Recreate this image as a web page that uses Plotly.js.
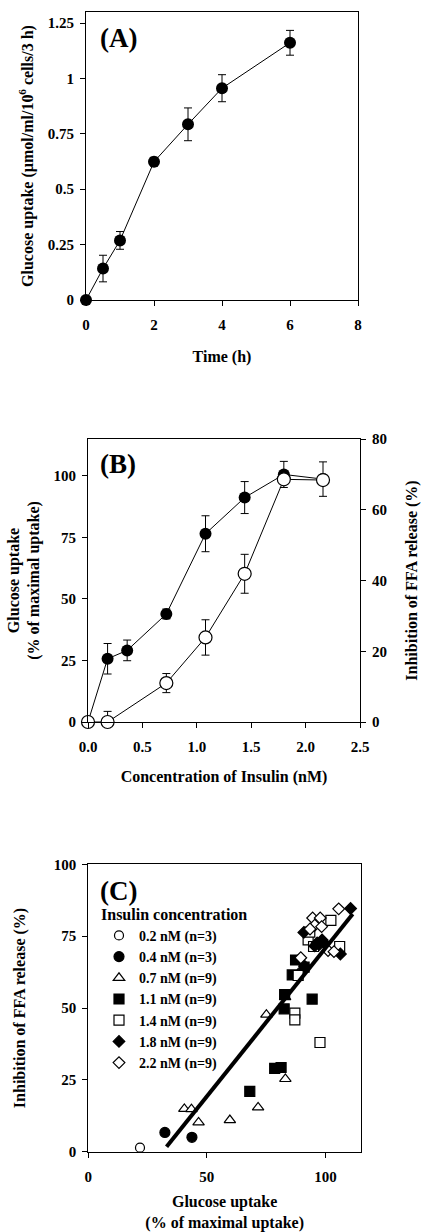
<!DOCTYPE html>
<html>
<head>
<meta charset="utf-8">
<script src="https://cdn.plot.ly/plotly-3.0.1.min.js"></script>
<style>html,body{margin:0;padding:0;background:#fff;}#chart{width:421px;height:1232px;}</style>
</head>
<body>
<div id="chart"></div>
<script>
// ---------- Panel A data ----------
var timeH = [0, 0.5, 1, 2, 3, 4, 6];
var uptakeA = [0, 0.142, 0.269, 0.624, 0.793, 0.956, 1.161];
var uptakeAErr = [0, 0.06, 0.04, 0.02, 0.074, 0.061, 0.056];
var timeTicks = [0, 2, 4, 6, 8];
var uptakeTicks = [0, 0.25, 0.5, 0.75, 1, 1.25];
var uptakeTickText = ["0", "0.25", "0.5", "0.75", "1", "1.25"];

// ---------- Panel B data ----------
var insulinGlu = [0, 0.18, 0.36, 0.72, 1.08, 1.44, 1.8, 2.16];
var gluPct = [0, 25.7, 29.1, 43.9, 76.5, 91.2, 100.6, 98.7];
var gluPctErr = [0, 6.2, 4.2, 2, 7.3, 6.5, 5.3, 7];
var insulinFFA = [0, 0.18, 0.72, 1.08, 1.44, 1.8, 2.16];
var ffaInhib = [0, 0, 11, 23.9, 41.9, 68.6, 68.4];
var ffaInhibErr = [0, 3, 2.7, 5, 5.5, 1.2, 1.2];

// ---------- Panel C data ----------
var c02x = [21.8];
var c02y = [1.4];
var c04x = [32.3, 43.7];
var c04y = [6.7, 5.0];
var c07x = [40.5, 43.5, 46.5, 59.7, 71.6, 83.1, 75.1, 83.0, 88.5];
var c07y = [14.9, 14.8, 10.2, 11.0, 15.4, 25.3, 47.7, 53.8, 62.0];
var c11x = [68.1, 78.6, 81.3, 82.6, 82.8, 86.0, 87.4, 94.4, 91.0];
var c11y = [21.0, 29.0, 29.3, 49.7, 54.7, 61.5, 66.7, 53.1, 64.2];
var c14x = [87.1, 87.1, 97.7, 92.7, 93.4, 102.3, 106.0, 95.0, 88.5];
var c14y = [48.2, 45.9, 38.0, 73.7, 76.4, 80.5, 71.4, 71.4, 61.3];
var c18x = [110.6, 90.9, 96.5, 98.6, 106.3, 95.5, 97.5, 99.5, 91.3];
var c18y = [84.6, 76.3, 72.6, 73.7, 68.8, 71.6, 72.2, 72.6, 64.5];
var c22x = [105.6, 94.6, 97.8, 95.5, 98.4, 89.6, 101.1, 103.6, 93.5];
var c22y = [84.5, 81.3, 81.3, 78.8, 78.3, 67.5, 70.0, 69.6, 77.5];
var fitX = [33.0, 111.5];
var fitY = [1.7, 82.7];
var legendNames = ["0.2 nM (n=3)", "0.4 nM (n=3)", "0.7 nM (n=9)", "1.1 nM (n=9)", "1.4 nM (n=9)", "1.8 nM (n=9)", "2.2 nM (n=9)"];

// ---------- helpers ----------
var W = 421, H = 1232;
function dx(a, b) { return [a / W, b / W]; }
function dy(top, bottom) { return [1 - bottom / H, 1 - top / H]; }
var FONT = "Liberation Serif, Times New Roman, serif";
function bf(sz) { return {family: FONT, size: sz, color: "#000", weight: "bold"}; }

var errStyle = {thickness: 1, width: 4, color: "#000"};

var traces = [];
// Panel A
traces.push({
  x: timeH, y: uptakeA, xaxis: "x", yaxis: "y", type: "scatter", mode: "lines+markers",
  line: {color: "#000", width: 1}, marker: {color: "#000", size: 12},
  error_y: Object.assign({type: "data", array: uptakeAErr, visible: true}, errStyle),
  cliponaxis: false, showlegend: false
});
// Panel B: glucose uptake (filled)
traces.push({
  x: insulinGlu, y: gluPct, xaxis: "x2", yaxis: "y2", type: "scatter", mode: "lines+markers",
  line: {color: "#000", width: 1}, marker: {color: "#000", size: 12},
  error_y: Object.assign({type: "data", array: gluPctErr, visible: true}, errStyle),
  cliponaxis: false, showlegend: false
});
// Panel B: FFA inhibition (open)
traces.push({
  x: insulinFFA, y: ffaInhib, xaxis: "x2", yaxis: "y3", type: "scatter", mode: "lines+markers",
  line: {color: "#000", width: 1}, marker: {color: "#fff", size: 13, line: {color: "#000", width: 1.2}},
  error_y: Object.assign({type: "data", array: ffaInhibErr, visible: true}, errStyle),
  cliponaxis: false, showlegend: false
});
// Panel C scatter groups
var groups = [
  [c02x, c02y, "circle", "#fff", 9],
  [c04x, c04y, "circle", "#000", 10],
  [c07x, c07y, "triangle-up", "#fff", 10],
  [c11x, c11y, "square", "#000", 10],
  [c14x, c14y, "square", "#fff", 10],
  [c18x, c18y, "diamond", "#000", 9],
  [c22x, c22y, "diamond", "#fff", 9]
];
groups.forEach(function (g, i) {
  traces.push({
    x: g[0], y: g[1], xaxis: "x3", yaxis: "y4", type: "scatter", mode: "markers",
    name: legendNames[i],
    marker: {symbol: g[2], color: g[3], size: g[4], line: {color: "#000", width: 1.2}},
    cliponaxis: false, showlegend: true
  });
});
traces.push({
  x: fitX, y: fitY, xaxis: "x3", yaxis: "y4", type: "scatter", mode: "lines",
  line: {color: "#000", width: 4}, showlegend: false, hoverinfo: "skip"
});

function axisBase(isX) {
  return {
    showline: true, linecolor: "#000", linewidth: 1, ticks: "outside", ticklen: 5,
    tickwidth: 1, tickcolor: "#000", showgrid: false, zeroline: false,
    tickfont: bf(15), fixedrange: true, ticklabelstandoff: isX ? 6 : 3
  };
}

var layout = {
  width: W, height: H, margin: {l: 0, r: 0, t: 0, b: 0},
  paper_bgcolor: "#fff", plot_bgcolor: "#fff",
  font: {family: FONT, color: "#000"},
  xaxis: Object.assign(axisBase(true), {
    domain: dx(86, 358), anchor: "y", range: [0, 8], tickvals: timeTicks, mirror: true,
    title: {text: "Time (h)", font: bf(16), standoff: 18}
  }),
  yaxis: Object.assign(axisBase(false), {
    domain: dy(12, 300), anchor: "x", range: [0, 1.3], tickvals: uptakeTicks, ticktext: uptakeTickText, mirror: true,
    title: {text: "Glucose uptake (µmol/ml/10<sup>6</sup> cells/3 h)", font: bf(16), standoff: 10}
  }),
  xaxis2: Object.assign(axisBase(true), {
    domain: dx(88, 360), anchor: "y2", range: [0, 2.5], dtick: 0.5, tick0: 0, tickformat: ".1f", mirror: true,
    title: {text: "Concentration of Insulin (nM)", font: bf(16), standoff: 16}
  }),
  yaxis2: Object.assign(axisBase(false), {
    domain: dy(439, 722), anchor: "x2", range: [0, 115], tickvals: [0, 25, 50, 75, 100],
    title: {text: "Glucose uptake<br>(% of maximal uptake)", font: bf(16), standoff: 9}
  }),
  yaxis3: Object.assign(axisBase(false), {
    overlaying: "y2", side: "right", anchor: "x2", range: [0, 80], dtick: 20, tick0: 0,
    title: {text: "Inhibition of FFA release (%)", font: bf(16), standoff: 25}
  }),
  xaxis3: Object.assign(axisBase(true), {
    domain: dx(88.3, 361), anchor: "y4", range: [0, 115], tickvals: [0, 50, 100], mirror: true,
    title: {text: "Glucose uptake<br>(% of maximal uptake)", font: bf(16), standoff: 13}
  }),
  yaxis4: Object.assign(axisBase(false), {
    domain: dy(864.3, 1151.7), anchor: "x3", range: [0, 100], tickvals: [0, 25, 50, 75, 100], mirror: true,
    title: {text: "Inhibition of FFA release (%)", font: bf(16), standoff: 24}
  }),
  showlegend: true,
  legend: {
    x: 99 / W, y: 1 - 899 / H, xanchor: "left", yanchor: "top",
    bgcolor: "rgba(0,0,0,0)", borderwidth: 0, font: bf(14),
    title: {text: "Insulin concentration", font: bf(16)},
    tracegroupgap: 0, itemclick: false, itemdoubleclick: false
  },
  annotations: [
    {text: "(A)", xref: "paper", yref: "paper", x: 98 / W, y: 1 - 38 / H, xanchor: "left", yanchor: "middle", showarrow: false, font: bf(27)},
    {text: "(B)", xref: "paper", yref: "paper", x: 98 / W, y: 1 - 464 / H, xanchor: "left", yanchor: "middle", showarrow: false, font: bf(27)},
    {text: "(C)", xref: "paper", yref: "paper", x: 98 / W, y: 1 - 891 / H, xanchor: "left", yanchor: "middle", showarrow: false, font: bf(27)}
  ]
};

Plotly.newPlot("chart", traces, layout, {staticPlot: true, displayModeBar: false});
</script>
</body>
</html>
